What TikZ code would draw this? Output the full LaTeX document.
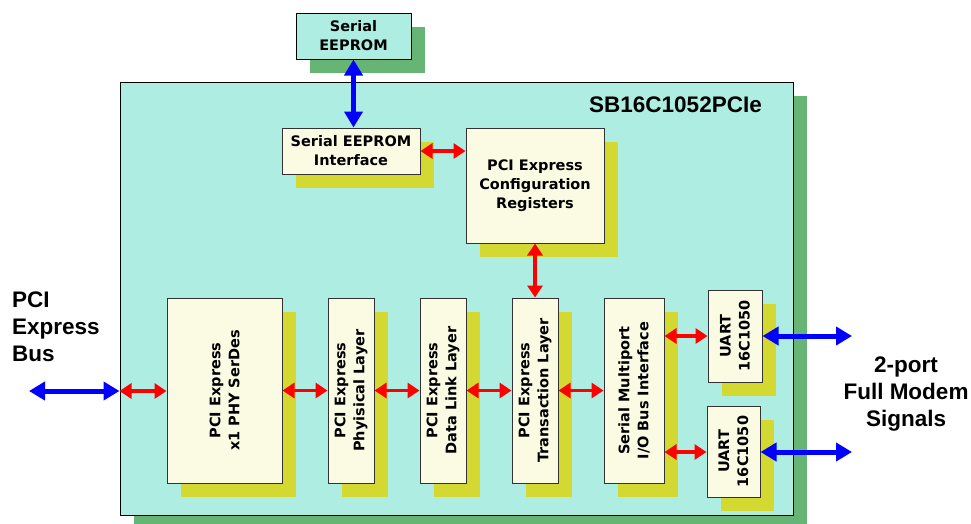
\documentclass[tikz,border=0pt]{standalone}
\usepackage{fontspec}
\setmainfont{DejaVu Sans}
\newfontfamily\labelfont{Liberation Sans}
\usetikzlibrary{shadows,arrows.meta}
\definecolor{chipbg}{RGB}{174,237,226}
\definecolor{chipshade}{RGB}{102,181,116}
\definecolor{blockbg}{RGB}{251,251,228}
\definecolor{blockshade}{RGB}{211,217,48}
\tikzset{
  chip/.style={draw=black, line width=1pt, fill=chipbg, inner sep=0pt,
    drop shadow={shadow xshift=14pt, shadow yshift=-14pt, fill=chipshade, opacity=1}},
  block/.style={draw=black!80, line width=1pt, fill=blockbg, inner sep=0pt,
    drop shadow={shadow xshift=14pt, shadow yshift=-14pt, fill=blockshade, opacity=1}},
  blocktext/.style={font=\fontsize{14.5}{19}\selectfont\bfseries, align=center, inner sep=0pt},
  outertext/.style={font=\labelfont\fontsize{22.5}{27}\selectfont\bfseries, inner sep=0pt},
  buslink/.style={blue, line width=5pt, {Triangle[length=16pt,width=18pt]}-{Triangle[length=16pt,width=18pt]}},
  intlink/.style={red, line width=3.5pt, {Triangle[length=12pt,width=15pt]}-{Triangle[length=12pt,width=15pt]}}
}
\begin{document}
\begin{tikzpicture}[x=1pt,y=-1pt]
\useasboundingbox (0,0) rectangle (971,523);
\node[chip, minimum width=673pt, minimum height=433pt] (chip) at (456.5,298.5) {};
\node[chip, blocktext, minimum width=115pt, minimum height=46pt] (eeprom) at (353.5,36) {Serial\\EEPROM};
\node[block, blocktext, minimum width=138pt, minimum height=46pt] (eepromif) at (351,151) {Serial EEPROM\\Interface};
\node[block, blocktext, minimum width=138pt, minimum height=115pt] (cfgreg) at (535,185.5) {PCI Express\\Configuration\\Registers};
\node[block, minimum width=115pt, minimum height=185pt] (serdes) at (224.5,390.5) {};
\node[blocktext, rotate=90] at (serdes) {PCI Express\\x1 PHY SerDes};
\node[block, minimum width=46pt, minimum height=185pt] (phylayer) at (351,390.5) {};
\node[blocktext, rotate=90] at (phylayer) {PCI Express\\Phyisical Layer};
\node[block, minimum width=46pt, minimum height=185pt] (dllayer) at (443,390.5) {};
\node[blocktext, rotate=90] at (dllayer) {PCI Express\\Data Link Layer};
\node[block, minimum width=46pt, minimum height=185pt] (tlayer) at (535,390.5) {};
\node[blocktext, rotate=90] at (tlayer) {PCI Express\\Transaction Layer};
\node[block, minimum width=60pt, minimum height=185pt] (sbus) at (634,390.5) {};
\node[blocktext, rotate=90] at (sbus) {Serial Multiport\\I/O Bus Interface};
\node[block, minimum width=54pt, minimum height=92pt] (uarta) at (735,336) {};
\node[blocktext, rotate=90] at (uarta) {UART\\16C1050};
\node[block, minimum width=53pt, minimum height=91pt] (uartb) at (733.5,451.5) {};
\node[blocktext, rotate=90] at (uartb) {UART\\16C1050};
\node[outertext, anchor=base] (chipname) at (675.5,112) {SB16C1052PCIe};
\node[outertext, anchor=north west, align=left] (pcibus) at (12,292) {PCI\\Express\\Bus};
\node[outertext, anchor=north, align=center] (modem) at (906,357) {2-port\\Full Modem\\Signals};
\coordinate (bus) at (29,391);
\coordinate (porta) at (852,336);
\coordinate (portb) at (852,452);
\draw[buslink] (eeprom.south) -- (eeprom.south |- eepromif.north);
\draw[intlink] (eepromif.east) -- (eepromif.east -| cfgreg.west);
\draw[intlink] (cfgreg.south) -- (tlayer.north);
\draw[buslink] (bus) -- (bus -| chip.west);
\draw[intlink] (bus -| chip.west) -- (bus -| serdes.west);
\draw[intlink] (serdes.east) -- (phylayer.west);
\draw[intlink] (phylayer.east) -- (dllayer.west);
\draw[intlink] (dllayer.east) -- (tlayer.west);
\draw[intlink] (tlayer.east) -- (sbus.west);
\draw[intlink] (sbus.east |- uarta) -- (uarta.west);
\draw[intlink] (sbus.east |- portb) -- (uartb.west |- portb);
\draw[buslink] (uarta.east) -- (porta);
\draw[buslink] (uartb.east |- portb) -- (portb);
\end{tikzpicture}
\end{document}
